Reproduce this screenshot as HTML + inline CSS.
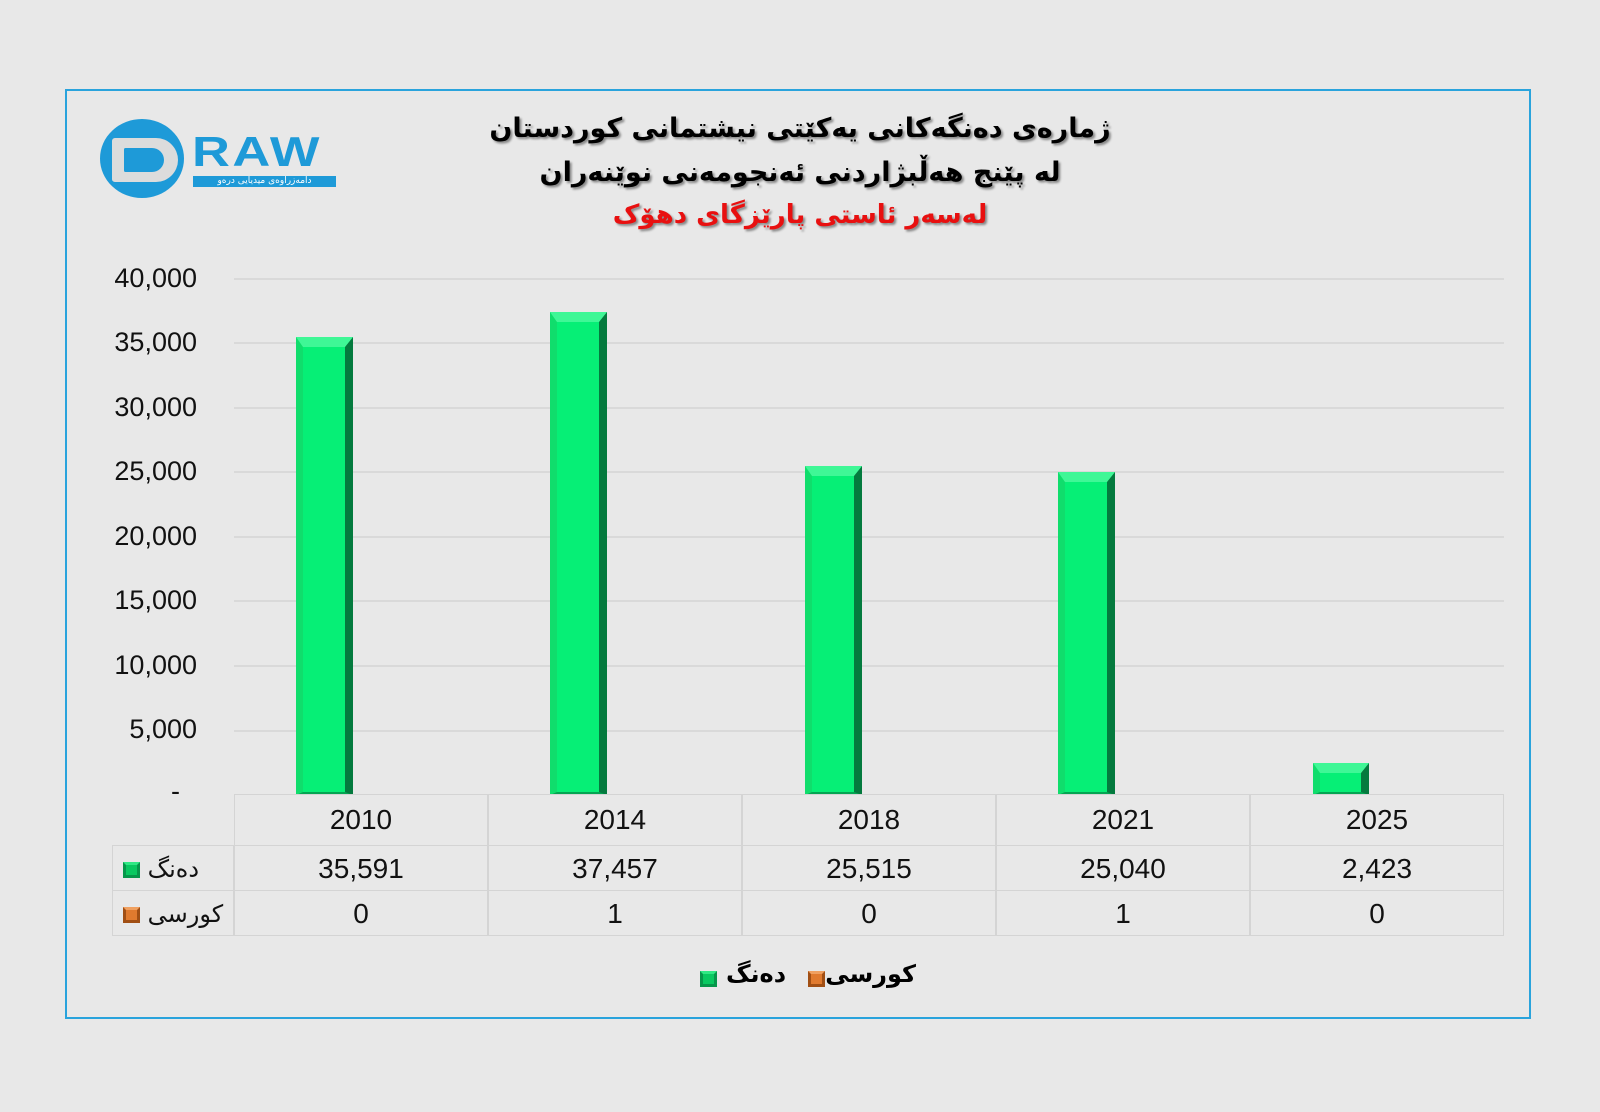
<!DOCTYPE html>
<html><head><meta charset="utf-8"><style>
body{margin:0;width:1600px;height:1112px;background:#e8e8e8;position:relative;overflow:hidden;font-family:"Liberation Sans","DejaVu Sans",sans-serif;}
.a{position:absolute}
.frame{left:65px;top:89px;width:1466px;height:930px;border:2px solid #29a3dc;box-sizing:border-box}
.t{left:300px;width:1000px;text-align:center;font-weight:bold;font-size:27px;font-family:"DejaVu Sans","Noto Sans CJK SC",sans-serif;direction:rtl;text-shadow:2px 2px 2px #888;color:#000}
.grid{left:234px;width:1270px;height:2px;background:#d9d9d9}
.yl{left:90px;width:107px;text-align:right;font-size:27px;color:#111}
.bar{box-sizing:border-box;background:#06ef76;border-top:10px solid #3ff796;border-left:7px solid #10dd6c;border-right:8px solid #047a3e;border-bottom:3px solid #05a452}
.cell{box-sizing:border-box;border:1px solid #d4d4d4;text-align:center;font-size:28px;color:#111}
.mk{display:inline-block;width:17px;height:16px;box-sizing:border-box;vertical-align:middle}
.g{background:#08c860;border:3px solid #05964a;border-top-color:#2fe884}
.o{background:#e07a2e;border:3px solid #a14f14;border-top-color:#f0a060}
.lab{font-family:"DejaVu Sans",sans-serif;font-size:24px;direction:rtl}
</style></head><body>
<div class="a frame"></div>
<!-- logo -->
<div class="a" style="left:100px;top:119px;width:84px;height:79px;border-radius:50%;background:#1e9ad8"></div>
<div class="a" style="left:112px;top:138px;width:66px;height:44px;border-radius:4px 30px 30px 4px;background:#dcdcdc"></div>
<div class="a" style="left:124px;top:148px;width:40px;height:24px;border-radius:2px 16px 16px 2px;background:#1e9ad8"></div>
<div class="a" style="left:192px;top:131px;font-size:42px;line-height:42px;font-weight:bold;color:#1e9ad8;letter-spacing:2px;transform:scaleX(1.25);transform-origin:left">RAW</div>
<div class="a" style="left:193px;top:176px;width:143px;height:11px;background:#1e9ad8;color:#fff;font-size:9px;line-height:11px;text-align:center;direction:rtl;font-family:'DejaVu Sans',sans-serif">دامەزراوەی میدیایی درەو</div>
<!-- title -->
<div class="a t" style="top:113px">ژمارەی دەنگەکانی یەکێتی نیشتمانی کوردستان</div>
<div class="a t" style="top:157px">لە پێنج هەڵبژاردنی ئەنجومەنی نوێنەران</div>
<div class="a t" style="top:200px;color:#e81010;font-size:26px">لەسەر ئاستی پارێزگای دهۆک</div>
<!-- grid -->
<div class="a grid" style="top:278px"></div><div class="a grid" style="top:342px"></div>
<div class="a grid" style="top:407px"></div><div class="a grid" style="top:471px"></div>
<div class="a grid" style="top:536px"></div><div class="a grid" style="top:600px"></div>
<div class="a grid" style="top:665px"></div><div class="a grid" style="top:730px"></div>
<div class="a yl" style="top:263px">40,000</div><div class="a yl" style="top:327px">35,000</div>
<div class="a yl" style="top:392px">30,000</div><div class="a yl" style="top:456px">25,000</div>
<div class="a yl" style="top:521px">20,000</div><div class="a yl" style="top:585px">15,000</div>
<div class="a yl" style="top:650px">10,000</div><div class="a yl" style="top:714px">5,000</div>
<div class="a yl" style="top:776px;width:90px">-</div>
<!-- bars -->
<div class="a bar" style="left:296px;top:337px;width:57px;height:458px"></div>
<div class="a bar" style="left:550px;top:312px;width:57px;height:483px"></div>
<div class="a bar" style="left:805px;top:466px;width:57px;height:329px"></div>
<div class="a bar" style="left:1058px;top:472px;width:57px;height:323px"></div>
<div class="a bar" style="left:1313px;top:763px;width:56px;height:32px"></div>
<!-- table -->
<div class="a cell" style="left:234px;top:794px;width:254px;height:52px;line-height:50px">2010</div>
<div class="a cell" style="left:488px;top:794px;width:254px;height:52px;line-height:50px">2014</div>
<div class="a cell" style="left:742px;top:794px;width:254px;height:52px;line-height:50px">2018</div>
<div class="a cell" style="left:996px;top:794px;width:254px;height:52px;line-height:50px">2021</div>
<div class="a cell" style="left:1250px;top:794px;width:254px;height:52px;line-height:50px">2025</div>
<div class="a cell" style="left:112px;top:845px;width:122px;height:46px;line-height:44px;text-align:left;padding-left:10px"><span class="mk g"></span><span class="lab"> دەنگ</span></div>
<div class="a cell" style="left:234px;top:845px;width:254px;height:46px;line-height:46px">35,591</div>
<div class="a cell" style="left:488px;top:845px;width:254px;height:46px;line-height:46px">37,457</div>
<div class="a cell" style="left:742px;top:845px;width:254px;height:46px;line-height:46px">25,515</div>
<div class="a cell" style="left:996px;top:845px;width:254px;height:46px;line-height:46px">25,040</div>
<div class="a cell" style="left:1250px;top:845px;width:254px;height:46px;line-height:46px">2,423</div>
<div class="a cell" style="left:112px;top:890px;width:122px;height:46px;line-height:44px;text-align:left;padding-left:10px"><span class="mk o"></span><span class="lab"> کورسی</span></div>
<div class="a cell" style="left:234px;top:890px;width:254px;height:46px;line-height:46px">0</div>
<div class="a cell" style="left:488px;top:890px;width:254px;height:46px;line-height:46px">1</div>
<div class="a cell" style="left:742px;top:890px;width:254px;height:46px;line-height:46px">0</div>
<div class="a cell" style="left:996px;top:890px;width:254px;height:46px;line-height:46px">1</div>
<div class="a cell" style="left:1250px;top:890px;width:254px;height:46px;line-height:46px">0</div>
<!-- legend -->
<div class="a mk g" style="left:700px;top:971px"></div>
<div class="a lab" style="left:722px;top:960px;width:68px;text-align:center;font-weight:bold">دەنگ</div>
<div class="a mk o" style="left:808px;top:971px"></div>
<div class="a lab" style="left:830px;top:960px;width:86px;text-align:center;font-weight:bold">کورسی</div>
</body></html>
